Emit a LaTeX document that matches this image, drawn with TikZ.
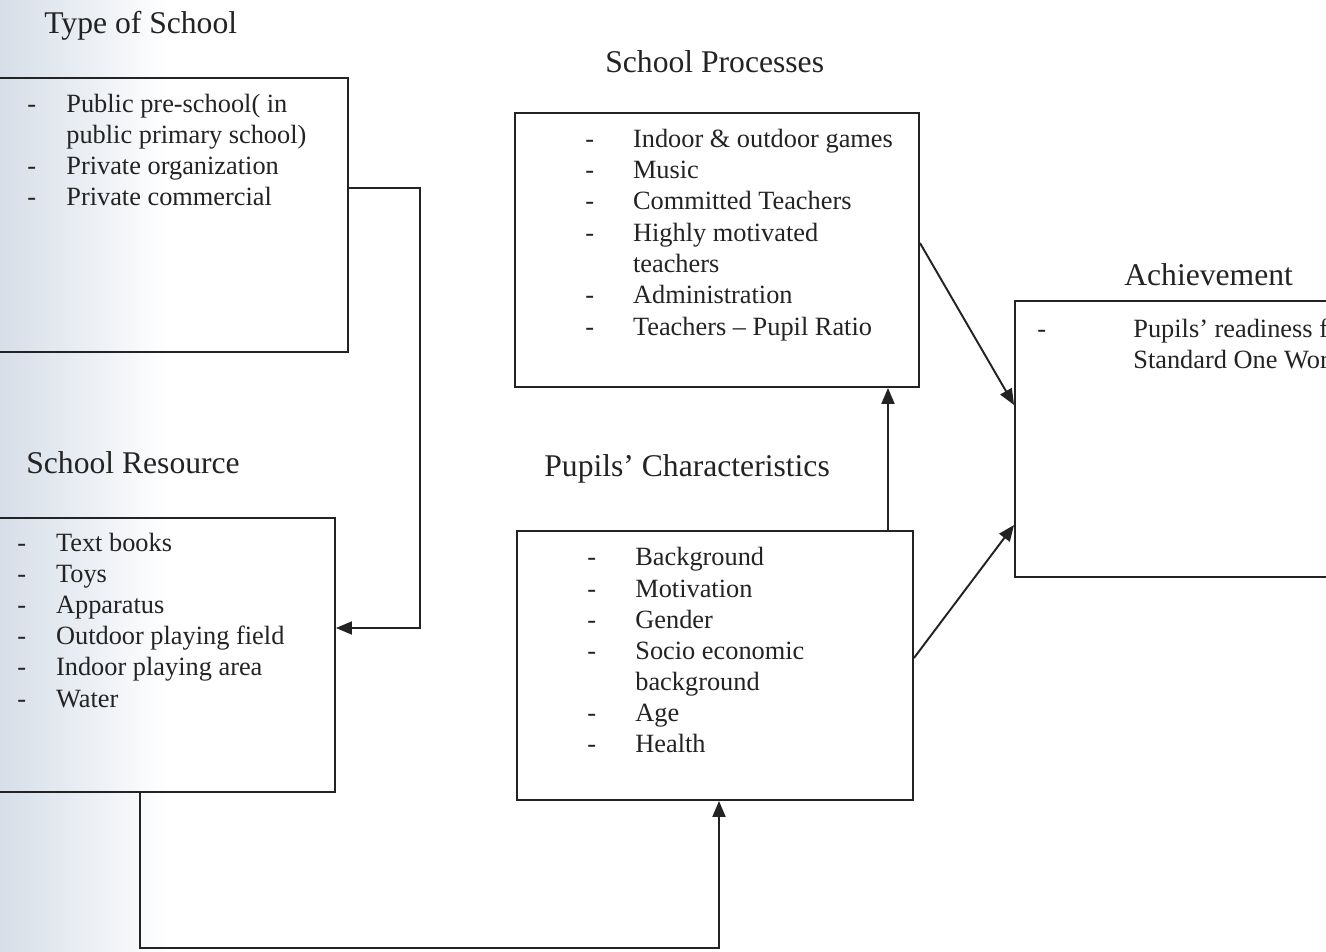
\documentclass[tikz,border=0pt]{standalone}
\usepackage{fontspec}
\setmainfont{Liberation Serif}
\usetikzlibrary{arrows.meta,fit}
\definecolor{ink}{RGB}{35,35,35}
\definecolor{scan}{RGB}{214,222,232}
\tikzset{
  box/.style={draw=ink, line width=1.1pt, inner sep=0pt},
  conn/.style={draw=ink, line width=1.1pt},
  arr/.style={conn, -{Triangle[length=0.32cm,width=0.26cm]}},
  title/.style={anchor=base west, inner sep=0pt, font=\fontsize{18}{21}\selectfont, text=ink},
  item/.style={anchor=base west, inner sep=0pt, font=\fontsize{15}{18}\selectfont, text=ink},
}
\newcommand{\dashline}[5]{%
  \node[item] (#1d) at (#2,#4) {-};
  \node[item] (#1) at (#3,#4) {#5};}
\begin{document}
\begin{tikzpicture}[x=0.02cm, y=-0.02cm]
\useasboundingbox (0,0) rectangle (1326,952);
\clip (0,0) rectangle (1326,952);
\fill[white] (0,0) rectangle (1326,952);
\shade[left color=scan, right color=white] (0,0) rectangle (170,952);

% titles
\node[title] (ttype) at (44,34) {Type of School};
\node[title] (tproc) at (605,73) {School Processes};
\node[title] (tach) at (1124,286) {Achievement};
\node[title] (tres) at (26,474) {School Resource};
\node[title] (tpup) at (544,477) {Pupils’ Characteristics};

% boxes
\node[box, fit={(-5,78) (348,352)}] (tbox) {};
\node[box, fit={(515,113) (919,387)}] (sbox) {};
\node[box, fit={(1015,301) (1345,577)}] (abox) {};
\node[box, fit={(-5,518) (335,792)}] (rbox) {};
\node[box, fit={(517,531) (913,800)}] (pbox) {};

% type of school
\dashline{ta}{27}{66}{113}{Public pre-school( in}
\node[item] (tb) at (66,144) {public primary school)};
\dashline{tc}{27}{66}{175}{Private organization}
\dashline{te}{27}{66}{206}{Private commercial}

% school resource
\dashline{ra}{17}{55.7}{552}{Text books}
\dashline{rb}{17}{55.7}{583}{Toys}
\dashline{rc}{17}{55.7}{614}{Apparatus}
\dashline{rd}{17}{55.7}{645}{Outdoor playing field}
\dashline{re}{17}{55.7}{676}{Indoor playing area}
\dashline{rf}{17}{55.7}{707}{Water}

% school processes
\dashline{sa}{585}{632.7}{147.3}{Indoor \& outdoor games}
\dashline{sb}{585}{632.7}{178.6}{Music}
\dashline{sc}{585}{632.7}{209.9}{Committed Teachers}
\dashline{sd}{585}{632.7}{241.2}{Highly motivated}
\node[item] (se) at (632.7,272.5) {teachers};
\dashline{sf}{585}{632.7}{303.8}{Administration}
\dashline{sg}{585}{632.7}{335.1}{Teachers – Pupil Ratio}

% pupils
\dashline{pa}{587}{635}{566}{Background}
\dashline{pb}{587}{635}{597.1}{Motivation}
\dashline{pc}{587}{635}{628.2}{Gender}
\dashline{pd}{587}{635}{659.3}{Socio economic}
\node[item] (pe) at (635,690.4) {background};
\dashline{pf}{587}{635}{721.5}{Age}
\dashline{pg}{587}{635}{752.6}{Health}

% achievement
\dashline{aa}{1037}{1133}{337.3}{Pupils’ readiness for}
\node[item] (ab) at (1133,368.3) {Standard One Work};

% connectors
\draw[arr] (tbox.east |- 0,188) -- (420,188) -- (420,628) -- (rbox.east |- 0,628);
\draw[arr] (rbox.south -| 140,0) -- (140,948) -- (719,948) -- (pbox.south -| 719,0);
\draw[arr] (pbox.north -| 888,0) -- (sbox.south -| 888,0);
\draw[arr] (sbox.east |- 0,243) -- (abox.west |- 0,405);
\draw[arr] (pbox.east |- 0,658) -- (abox.west |- 0,525);
\end{tikzpicture}
\end{document}
